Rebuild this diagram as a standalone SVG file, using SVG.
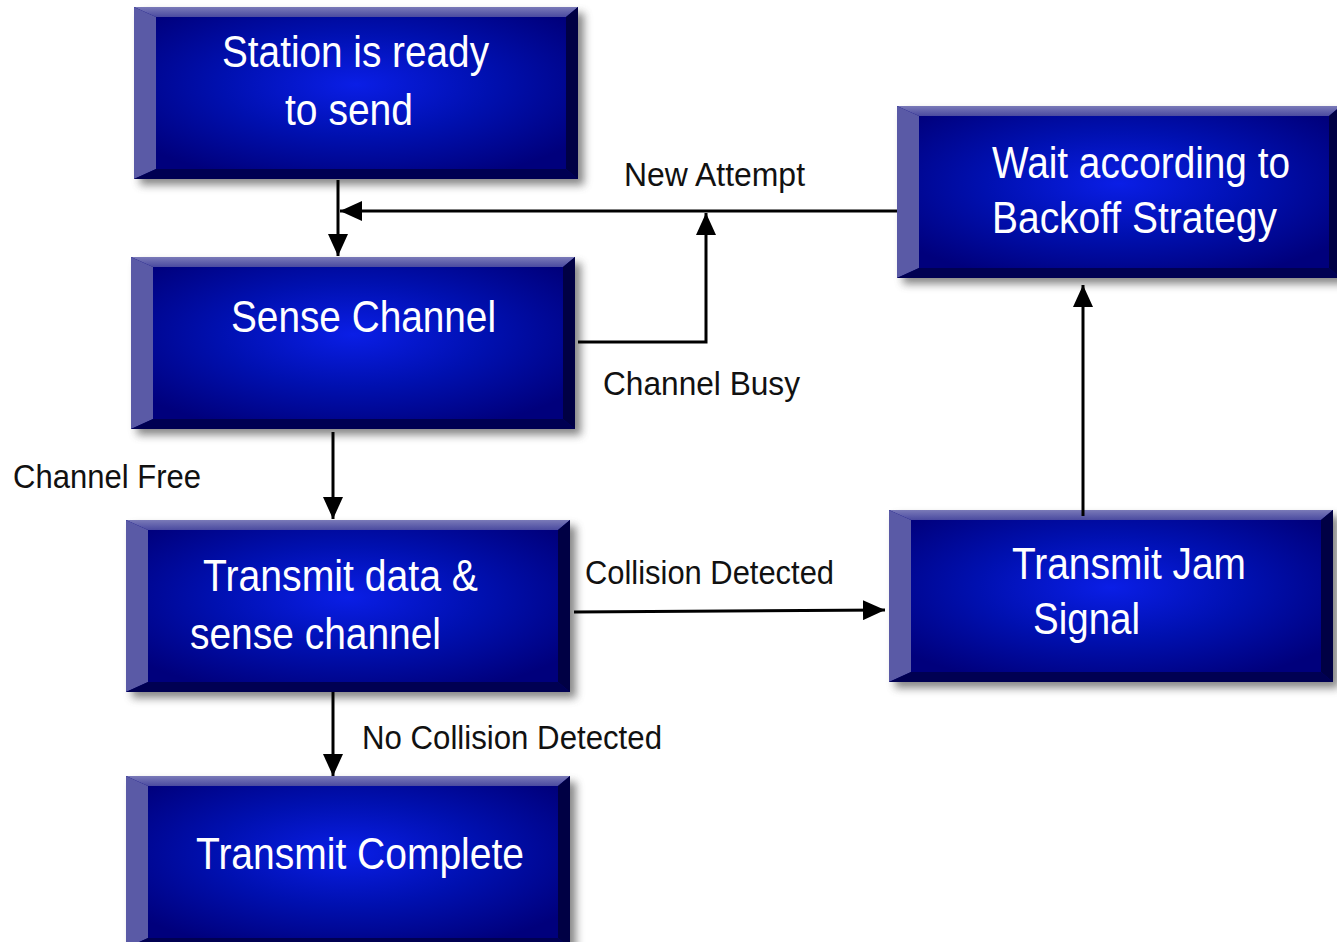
<svg xmlns="http://www.w3.org/2000/svg" xmlns:xlink="http://www.w3.org/1999/xlink" width="1337" height="942" viewBox="0 0 1337 942">
  <defs>
    <radialGradient id="fillG" cx="50%" cy="45%" r="60%">
      <stop offset="0%" stop-color="#0a1ee6"/>
      <stop offset="50%" stop-color="#0010b0"/>
      <stop offset="100%" stop-color="#00007c"/>
    </radialGradient>
    <linearGradient id="topG" x1="0" y1="0" x2="0" y2="1">
      <stop offset="0%" stop-color="#7a7ab8"/>
      <stop offset="100%" stop-color="#4a4aa0"/>
    </linearGradient>
    <filter id="shadow" x="-10%" y="-10%" width="130%" height="130%">
      <feGaussianBlur stdDeviation="4"/>
    </filter>
    <g id="box">
      <rect x="6" y="6" width="444" height="172" fill="#555" opacity="0.7" filter="url(#shadow)"/>
      <rect x="0" y="0" width="444" height="172" fill="url(#fillG)"/>
      <polygon points="0,0 444,0 432,10 22,10" fill="url(#topG)"/>
      <polygon points="0,0 22,10 22,162 0,172" fill="#5a5aa6"/>
      <polygon points="444,0 444,172 432,162 432,10" fill="#000044"/>
      <polygon points="0,172 444,172 432,162 22,162" fill="#000052"/>
    </g>
    <marker id="arr" markerUnits="userSpaceOnUse" markerWidth="24" markerHeight="20" refX="22" refY="10" orient="auto">
      <path d="M0,0 L22,10 L0,20 Z" fill="#000"/>
    </marker>
    <style>
      .bt { font-family: "Liberation Sans", Arial, sans-serif; font-size: 45px; fill: #ffffff; }
      .lb { font-family: "Liberation Sans", Arial, sans-serif; font-size: 33px; fill: #111111; }
      .cn { fill: none; stroke: #000; stroke-width: 3; }
    </style>
  </defs>
  <rect width="1337" height="942" fill="#ffffff"/>

  <g id="n-ready">
    <use xlink:href="#box" x="134" y="7"/>
    <text class="bt" x="222" y="67" textLength="267" lengthAdjust="spacingAndGlyphs">Station is ready</text>
    <text class="bt" x="285" y="125" textLength="128" lengthAdjust="spacingAndGlyphs">to send</text>
  </g>
  <g id="n-sense">
    <use xlink:href="#box" x="131" y="257"/>
    <text class="bt" x="231" y="332" textLength="265" lengthAdjust="spacingAndGlyphs">Sense Channel</text>
  </g>
  <g id="n-transmit">
    <use xlink:href="#box" x="126" y="520"/>
    <text class="bt" x="203" y="591" textLength="275" lengthAdjust="spacingAndGlyphs">Transmit data &amp;</text>
    <text class="bt" x="190" y="649" textLength="251" lengthAdjust="spacingAndGlyphs">sense channel</text>
  </g>
  <g id="n-complete">
    <use xlink:href="#box" x="126" y="776"/>
    <text class="bt" x="196" y="869" textLength="328" lengthAdjust="spacingAndGlyphs">Transmit Complete</text>
  </g>
  <g id="n-wait">
    <use xlink:href="#box" x="897" y="106"/>
    <text class="bt" x="992" y="178" textLength="298" lengthAdjust="spacingAndGlyphs">Wait according to</text>
    <text class="bt" x="992" y="233" textLength="285" lengthAdjust="spacingAndGlyphs">Backoff Strategy</text>
  </g>
  <g id="n-jam">
    <use xlink:href="#box" x="889" y="510"/>
    <text class="bt" x="1012" y="579" textLength="234" lengthAdjust="spacingAndGlyphs">Transmit Jam</text>
    <text class="bt" x="1033" y="634" textLength="107" lengthAdjust="spacingAndGlyphs">Signal</text>
  </g>

  <g id="connectors">
    <path class="cn" d="M338,180 V256" marker-end="url(#arr)"/>
    <path class="cn" d="M897,211 H340" marker-end="url(#arr)"/>
    <path class="cn" d="M578,342 H706 V213" marker-end="url(#arr)"/>
    <path class="cn" d="M333,432 V519" marker-end="url(#arr)"/>
    <path class="cn" d="M574,612 L885,610" marker-end="url(#arr)"/>
    <path class="cn" d="M1083,516 V285" marker-end="url(#arr)"/>
    <path class="cn" d="M333,692 V776" marker-end="url(#arr)"/>
    <text class="lb" x="624" y="186" textLength="181" lengthAdjust="spacingAndGlyphs">New Attempt</text>
    <text class="lb" x="603" y="395" textLength="197" lengthAdjust="spacingAndGlyphs">Channel Busy</text>
    <text class="lb" x="13" y="488" textLength="188" lengthAdjust="spacingAndGlyphs">Channel Free</text>
    <text class="lb" x="585" y="584" textLength="249" lengthAdjust="spacingAndGlyphs">Collision Detected</text>
    <text class="lb" x="362" y="749" textLength="300" lengthAdjust="spacingAndGlyphs">No Collision Detected</text>
  </g>
</svg>
